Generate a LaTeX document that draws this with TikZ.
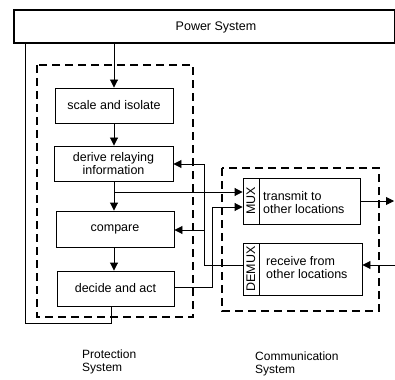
\documentclass[tikz,border=0pt]{standalone}
\usepackage{fontspec}
\setmainfont{Liberation Sans}
\usetikzlibrary{arrows.meta}
\begin{document}
\begin{tikzpicture}[x=1pt,y=-1pt,
  font=\fontsize{12.5}{13}\selectfont,
  blk/.style={draw,line width=0.9pt,inner sep=0pt,align=center},
  grp/.style={draw,line width=1.8pt,dash pattern=on 8pt off 5pt},
  wire/.style={line width=0.9pt},
  arr/.style={wire,-{Triangle[length=8pt,width=8pt]}},
  grplbl/.style={align=left,inner sep=0pt,anchor=north west,font=\fontsize{12}{13}\selectfont}]
\useasboundingbox (0,0) rectangle (395,379);
\begin{scope}
\clip (0,0) rectangle (395,379);
% power system bar
\node[draw,line width=2pt,inner sep=0pt,minimum width=381pt,minimum height=33pt] (power) at (204.5,26.5) {};
\end{scope}
\node[inner sep=0pt] (powerlbl) at (216,27) {Power System};

% group outlines
\draw[grp] (37,65) rectangle (193,317);
\draw[grp] (222,168) rectangle (379,311);

% protection chain
\node[blk,minimum width=118pt,minimum height=35pt] (scale) at (114,105.5) {scale and isolate};
\node[blk,minimum width=119pt,minimum height=35pt] (derive) at (113.5,163.5) {derive relaying\\information};
\node[blk,minimum width=118pt,minimum height=36pt] (compare) at (115,229) {compare};
\node[blk,minimum width=117pt,minimum height=35pt] (decide) at (115.5,288.5) {decide and act};

% multiplexers
\node[blk,minimum width=117pt,minimum height=46pt] (mux) at (301.5,201) {};
\node[blk,minimum width=119pt,minimum height=52pt] (demux) at (302.5,269) {};
\draw[wire] (259,178) -- (259,224);
\draw[wire] (259,243) -- (259,295);
\node[rotate=90,inner sep=0pt] (muxlbl) at (251,201) {MUX};
\node[rotate=90,inner sep=0pt] (demuxlbl) at (251,269) {DEMUX};
\node[align=left,inner sep=0pt,anchor=west] (muxtxt) at (263,203) {transmit to\\other locations};
\node[align=left,inner sep=0pt,anchor=west] (demuxtxt) at (266,268) {receive from\\other locations};

% signal paths
\coordinate (tap) at (114,192);
\coordinate (pout) at (394,201);
\coordinate (pin) at (395,265);
\draw[arr] (power.south -| 114,0) -- (scale.north -| 114,0);
\draw[arr] (scale.south -| 114,0) -- (derive.north -| 114,0);
\draw[arr] (derive.south -| 114,0) -- (compare.north -| 114,0);
\draw[arr] (compare.south -| 114,0) -- (decide.north -| 114,0);
\draw[arr] (tap) -- (tap -| mux.west);
\draw[arr] (decide.east |- 0,287) -- (212,287) -- (212,207) -- (mux.west |- 0,207);
\draw[arr] (demux.west |- 0,265) -- (204,265) -- (204,164) -- (derive.east |- 0,164);
\draw[arr] (204,230) -- (compare.east |- 0,230);
\draw[arr] (mux.east |- pout) -- (pout);
\draw[arr] (pin) -- (demux.east |- pin);
\draw[wire] (power.south -| 25,0) -- (25,323) -- (111,323) -- (decide.south -| 111,0);

% captions
\node[grplbl] (protlbl) at (82,350) {Protection\\System};
\node[grplbl] (commlbl) at (255,352) {Communication\\System};
\end{tikzpicture}
\end{document}
